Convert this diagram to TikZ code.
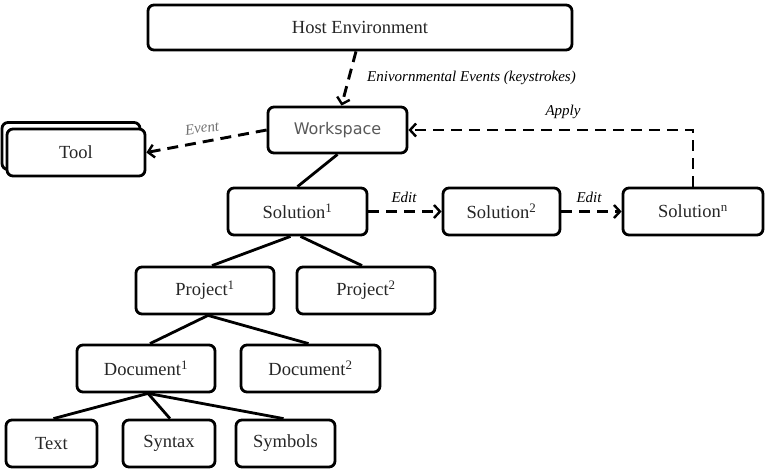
\documentclass[tikz,border=0pt]{standalone}
\usepackage{fontspec}
\setmainfont{Liberation Serif}
\newfontfamily\wsfont{DejaVu Sans}
\usetikzlibrary{arrows.meta,calc}
\begin{document}
\begin{tikzpicture}[x=1pt,y=-1pt,
  box/.style={draw=black, line width=2.8pt, rounded corners=6pt, fill=white,
    inner sep=0pt, font=\fontsize{18.5}{21}\selectfont, text=black!85},
  conn/.style={line width=2.8pt},
  dconn/.style={line width=2.9pt, dash pattern=on 11pt off 7pt,
    -{Straight Barb[length=6pt,width=13pt,line width=2.4pt]}},
  lbl/.style={font=\fontsize{15}{18}\selectfont\itshape, inner sep=1pt}]
\useasboundingbox (0,0) rectangle (768,475);
% nodes
\node[box, minimum width=424pt, minimum height=45pt] (host) at (360,27.5) {Host Environment};
\node[box, minimum width=139pt, minimum height=46pt, font=\wsfont\fontsize{16}{19}\selectfont, text=black!65] (ws) at (337.5,130) {Workspace};
\node[box, minimum width=138pt, minimum height=47pt] (toolback) at (71,146) {};
\node[box, minimum width=138pt, minimum height=47pt] (tool) at (76,152.5) {Tool};
\node[box, minimum width=139pt, minimum height=47pt] (sol1) at (297.5,211.5) {Solution\textsuperscript{1}};
\node[box, minimum width=117pt, minimum height=47pt] (sol2) at (501.5,211.5) {Solution\textsuperscript{2}};
\node[box, minimum width=140pt, minimum height=47pt] (soln) at (693,211.5) {Solution\textsuperscript{n}};
\node[box, minimum width=138pt, minimum height=47pt] (proj1) at (205,290.5) {Project\textsuperscript{1}};
\node[box, minimum width=138pt, minimum height=47pt] (proj2) at (366,290.5) {Project\textsuperscript{2}};
\node[box, minimum width=138pt, minimum height=47pt] (doc1) at (146,368.5) {Document\textsuperscript{1}};
\node[box, minimum width=139pt, minimum height=47pt] (doc2) at (310.5,368.5) {Document\textsuperscript{2}};
\node[box, minimum width=91pt, minimum height=47pt] (txt) at (51.5,443.5) {Text};
\node[box, minimum width=92pt, minimum height=47pt] (syn) at (169,443.5) {Syntax};
\node[box, minimum width=99pt, minimum height=47pt] (sym) at (285.5,443.5) {Symbols};
% solid tree connectors
\draw[conn] (ws.south) -- (sol1.north);
\draw[conn] ([xshift=-7pt]sol1.south) -- ([xshift=7pt]proj1.north);
\draw[conn] ([xshift=3pt]sol1.south) -- ([xshift=-4pt]proj2.north);
\draw[conn] ([xshift=3pt]proj1.south) -- ([xshift=4pt]doc1.north);
\draw[conn] ([xshift=3pt]proj1.south) -- ([xshift=-2pt]doc2.north);
\draw[conn] ([xshift=2pt]doc1.south) -- ([xshift=2pt]txt.north);
\draw[conn] ([xshift=2pt]doc1.south) -- ([xshift=1pt]syn.north);
\draw[conn] ([xshift=2pt]doc1.south) -- ([xshift=-2pt]sym.north);
% dashed arrows
\draw[dconn] ([xshift=-4pt]host.south) -- ([xshift=4pt]ws.north);
\draw[dconn] (ws.west) -- (tool.east);
\draw[dconn] (soln.north) |- (ws.east);
\draw[dconn] (sol1.east) -- (sol2.west);
\draw[dconn] (sol2.east) -- (soln.west);
% labels
\node[lbl, anchor=west] (envlbl) at (366,78) {Enivornmental Events (keystrokes)};
\node[lbl, text=black!55, rotate=8] (evlbl) at (202,128) {Event};
\node[lbl] (applbl) at (563,112) {Apply};
\node[lbl] (edit1) at (404,197) {Edit};
\node[lbl] (edit2) at (589,197) {Edit};
\end{tikzpicture}
\end{document}
